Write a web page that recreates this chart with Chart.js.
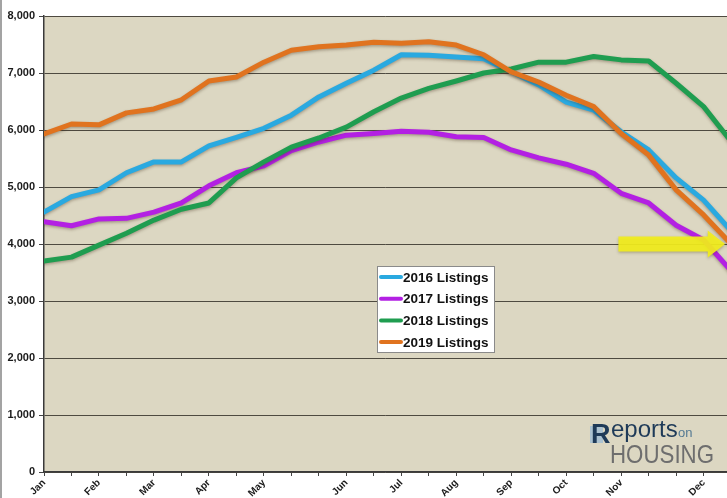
<!DOCTYPE html>
<html>
<head>
<meta charset="utf-8">
<script src="https://cdn.jsdelivr.net/npm/chart.js@4.4.1/dist/chart.umd.min.js"></script>
<style>
  html, body { margin: 0; padding: 0; background: #fff; overflow: hidden; }
  #wrap { width: 727px; height: 498px; position: relative; }
</style>
</head>
<body>
<div id="wrap"><canvas id="chart" width="727" height="498"></canvas></div>
<script>
// Half-monthly points, labels only at month starts
const xLabels = ['Jan', '', 'Feb', '', 'Mar', '', 'Apr', '', 'May', '', '', 'Jun', '', 'Jul', '', 'Aug', '', 'Sep', '', 'Oct', '', 'Nov', '', '', 'Dec', ''];

const listings2016 = [4560, 4830, 4950, 5250, 5440, 5440, 5720, 5870, 6030, 6260, 6580, 6820, 7050, 7320, 7310, 7280, 7250, 7020, 6790, 6490, 6350, 5970, 5650, 5160, 4770, 4230];
const listings2017 = [4390, 4320, 4440, 4450, 4560, 4720, 5020, 5250, 5370, 5640, 5790, 5910, 5940, 5980, 5960, 5880, 5870, 5650, 5510, 5400, 5240, 4890, 4720, 4330, 4070, 3530];
const listings2018 = [3700, 3770, 3980, 4190, 4420, 4610, 4720, 5160, 5440, 5700, 5860, 6050, 6320, 6560, 6730, 6860, 7000, 7070, 7190, 7190, 7290, 7230, 7210, 6820, 6410, 5800];
const listings2019 = [5930, 6105, 6090, 6300, 6370, 6530, 6860, 6930, 7190, 7400, 7460, 7490, 7540, 7520, 7550, 7490, 7320, 7020, 6840, 6610, 6410, 5940, 5560, 4950, 4510, 4000];

const seriesNames = ['2016 Listings', '2017 Listings', '2018 Listings', '2019 Listings'];
const seriesColors = ['#2aa9e0', '#b320e3', '#1f9d50', '#e0731f'];

const yTicks = [0, 1000, 2000, 3000, 4000, 5000, 6000, 7000, 8000];

function formatNumber(num) {
  return num.toString().replace(/\B(?=(\d{3})+(?!\d))/g, ',');
}

function toPoints(values) {
  return values.map((v, i) => ({ x: i, y: v }));
}

// Plot background, shadows, legend box, arrow and logo
const decorPlugin = {
  id: 'decor',
  beforeDraw(chart) {
    const { ctx, chartArea: a } = chart;
    ctx.save();
    ctx.fillStyle = '#ffffff';
    ctx.fillRect(0, 0, chart.width, chart.height);
    ctx.fillStyle = '#dcd7c2';
    ctx.fillRect(a.left, a.top, a.right - a.left, a.bottom - a.top);
    // image border on the left
    ctx.fillStyle = '#a3a3a3';
    ctx.fillRect(0, 0, 2, chart.height);
    ctx.restore();
  },
  beforeDatasetsDraw(chart) {
    const ctx = chart.ctx;
    ctx.save();
    ctx.shadowColor = 'rgba(60, 40, 20, 0.35)';
    ctx.shadowBlur = 3;
    ctx.shadowOffsetY = 1.5;
  },
  afterDatasetsDraw(chart) {
    const ctx = chart.ctx;
    ctx.restore();

    const xs = chart.scales.x;
    const ys = chart.scales.y;

    // yellow arrow pointing at 4,000
    const x0 = xs.getPixelForValue(20.9);
    const xh = xs.getPixelForValue(24.15);
    const xt = xs.getPixelForValue(24.78);
    const yc = ys.getPixelForValue(4000);
    const bh = 7.5;
    const hh = 13.5;
    ctx.save();
    ctx.globalAlpha = 0.92;
    ctx.shadowColor = 'rgba(80, 70, 20, 0.35)';
    ctx.shadowBlur = 3;
    ctx.shadowOffsetY = 1.5;
    ctx.fillStyle = '#f2ee1c';
    ctx.beginPath();
    ctx.moveTo(x0, yc - bh);
    ctx.lineTo(xh, yc - bh);
    ctx.lineTo(xh, yc - hh);
    ctx.lineTo(xt, yc);
    ctx.lineTo(xh, yc + hh);
    ctx.lineTo(xh, yc + bh);
    ctx.lineTo(x0, yc + bh);
    ctx.closePath();
    ctx.fill();
    ctx.restore();
  },
  afterDraw(chart) {
    const { ctx, chartArea: a } = chart;

    // legend box inside the plot
    const lx = 377, ly = 266, lw = 117, lh = 86;
    ctx.save();
    ctx.fillStyle = '#ffffff';
    ctx.fillRect(lx, ly, lw, lh);
    ctx.strokeStyle = '#8a8a8a';
    ctx.lineWidth = 1;
    ctx.strokeRect(lx + 0.5, ly + 0.5, lw, lh);
    ctx.font = 'bold 13.5px "Liberation Sans", Arial, sans-serif';
    ctx.textBaseline = 'middle';
    ctx.fillStyle = '#111';
    seriesNames.forEach((name, i) => {
      const y = ly + 11 + i * 21.7;
      ctx.strokeStyle = seriesColors[i];
      ctx.lineWidth = 4;
      ctx.lineCap = 'round';
      ctx.beginPath();
      ctx.moveTo(lx + 4, y);
      ctx.lineTo(lx + 24, y);
      ctx.stroke();
      ctx.fillText(name, lx + 26, y + 1);
    });
    ctx.restore();

    // Reports on Housing logo
    const gx = a.right - 137;
    const gy = a.bottom - 54;
    ctx.save();
    ctx.fillStyle = 'rgba(150, 185, 215, 0.7)';
    ctx.fillRect(gx, gy + 8, 13, 17);
    ctx.fillStyle = '#1e3a58';
    ctx.font = 'bold 27px "Liberation Sans", Arial, sans-serif';
    ctx.textBaseline = 'alphabetic';
    ctx.fillText('R', gx + 1, gy + 25);
    ctx.font = '24px "Liberation Sans", Arial, sans-serif';
    ctx.fillText('eports', gx + 21, gy + 19);
    ctx.fillStyle = '#557a93';
    ctx.font = '13px "Liberation Sans", Arial, sans-serif';
    ctx.fillText('on', gx + 88, gy + 19);
    ctx.fillStyle = '#6e6e6e';
    ctx.font = '26px "Liberation Sans", Arial, sans-serif';
    const w = ctx.measureText('HOUSING').width;
    ctx.translate(gx + 20, gy + 45);
    ctx.scale(104 / w, 1);
    ctx.fillText('HOUSING', 0, 0);
    ctx.restore();
  }
};

document.addEventListener('DOMContentLoaded', () => {
  const ctx = document.getElementById('chart').getContext('2d');
  Chart.defaults.font.family = '"Liberation Sans", Arial, sans-serif';
  Chart.defaults.color = '#1a1a1a';

  const allSeries = [listings2016, listings2017, listings2018, listings2019];

  new Chart(ctx, {
    type: 'line',
    data: {
      datasets: allSeries.map((values, i) => ({
        label: seriesNames[i],
        data: toPoints(values),
        borderColor: seriesColors[i],
        backgroundColor: seriesColors[i],
        borderWidth: 5,
        pointRadius: 0,
        tension: 0,
        fill: false,
        borderJoinStyle: 'round',
        borderCapStyle: 'round',
        order: allSeries.length - i
      }))
    },
    options: {
      responsive: false,
      animation: false,
      layout: { padding: { top: 16, right: 0, left: 0, bottom: 0 } },
      scales: {
        x: {
          type: 'linear',
          min: 0,
          max: 24.85,
          afterBuildTicks: (scale) => {
            scale.ticks = xLabels.slice(0, 25).map((_, i) => ({ value: i }));
          },
          afterFit: (scale) => { scale.height = 26; },
          ticks: {
            autoSkip: false,
            maxRotation: 45,
            minRotation: 45,
            padding: 1,
            font: { size: 10, weight: 'bold' },
            color: '#1a1a1a',
            callback: (value) => xLabels[value] || ''
          },
          grid: {
            drawOnChartArea: false,
            drawTicks: true,
            tickLength: 4,
            tickColor: '#444'
          },
          border: { display: true, color: '#3a3a3a', width: 1.5 }
        },
        y: {
          min: 0,
          max: 8000,
          afterBuildTicks: (scale) => {
            scale.ticks = yTicks.map((v) => ({ value: v }));
          },
          afterFit: (scale) => { scale.width = 44; },
          ticks: {
            padding: 4,
            font: { size: 11, weight: 'bold' },
            color: '#1a1a1a',
            callback: (value) => formatNumber(value)
          },
          grid: {
            color: '#4e4a40',
            lineWidth: 1,
            drawTicks: true,
            tickLength: 5,
            tickColor: '#444'
          },
          border: { display: true, color: '#3a3a3a', width: 1.5 }
        }
      },
      plugins: {
        legend: { display: false },
        tooltip: { enabled: false }
      }
    },
    plugins: [decorPlugin]
  });
});
</script>
</body>
</html>
